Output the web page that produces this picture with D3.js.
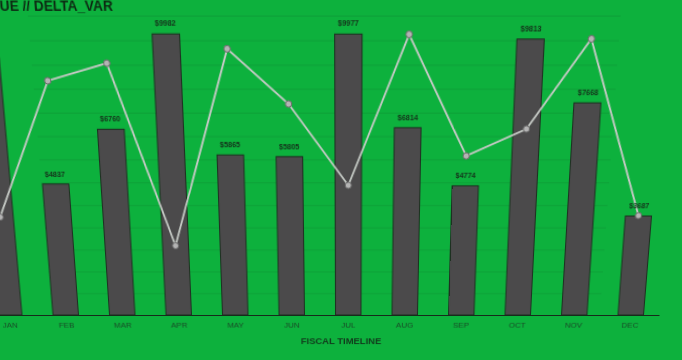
<!DOCTYPE html>
<html><head><meta charset="utf-8">
<script src="https://cdn.jsdelivr.net/npm/d3@7"></script>
<style>
html,body{margin:0;padding:0;background:#0db13d;overflow:hidden;width:682px;height:360px;}
#wrap{position:absolute;left:0;top:0;width:682px;height:360px;overflow:hidden;}
#wrap svg{position:absolute;left:-60px;top:0;transform-origin:407px 315px;transform:perspective(777px) rotateX(-12deg);}
text{font-family:"Liberation Sans",Arial,sans-serif;}
</style></head><body><div id="wrap"></div>
<script>
const months = ["JAN","FEB","MAR","APR","MAY","JUN","JUL","AUG","SEP","OCT","NOV","DEC"];
const revenue = [9200, 4837, 6760, 9982, 5865, 5805, 9977, 6814, 4774, 9813, 7668, 3687];
const deltaVar = [3650, 8420, 9010, 2600, 9490, 7630, 4790, 9970, 5830, 6770, 9820, 3700];
const yMax = 10570;
const gridCount = 13;
const chartTitle = "REVENUE // DELTA_VAR";
const xAxisTitle = "FISCAL TIMELINE";

const off = 60;
const svg = d3.select("#wrap").append("svg").attr("width", 800).attr("height", 400);
const g = svg.append("g").attr("transform", `translate(${off},0)`);

const x = d3.scaleBand().domain(months).range([-19, 659]).paddingInner(0.55).paddingOuter(0.275);
const y = d3.scaleLinear().domain([0, yMax]).range([315, 32.5]);

// gridlines
const gridVals = d3.range(1, gridCount + 1).map(i => yMax * i / gridCount);
g.append("g").selectAll("line").data(gridVals).join("line")
  .attr("x1", 52).attr("x2", 600)
  .attr("y1", d => y(d)).attr("y2", d => y(d))
  .attr("stroke", "#000").attr("stroke-opacity", 0.09).attr("stroke-width", 1);

// title
g.append("text").attr("x", 131).attr("y", 28).attr("text-anchor", "end")
  .attr("font-size", 12.6).attr("font-weight", "bold").attr("fill", "#0c2611").text(chartTitle);

// bars
g.append("g").selectAll("rect").data(months).join("rect")
  .attr("x", d => x(d)).attr("width", x.bandwidth())
  .attr("y", (d, i) => y(revenue[i])).attr("height", (d, i) => y(0) - y(revenue[i]))
  .attr("fill", "#4b4a4b").attr("stroke", "#1c2f20").attr("stroke-width", 1);

// x axis
const xAxis = g.append("g").attr("transform", `translate(0,${y(0)})`)
  .call(d3.axisBottom(x).tickSize(0).tickPadding(7));
xAxis.select(".domain").attr("stroke", "#15281a").attr("stroke-width", 1.2);
xAxis.selectAll("text").attr("font-size", 8).attr("fill", "#184a26")
  .attr("font-family", "'Liberation Sans', Arial, sans-serif");

g.append("text").attr("x", 341).attr("y", 345).attr("text-anchor", "middle")
  .attr("font-size", 9.5).attr("font-weight", "bold").attr("fill", "#103a1b").text(xAxisTitle);

// line
const cx = (d, i) => x(months[i]) + x.bandwidth() / 2;
const line = d3.line().x((d, i) => cx(d, i)).y(d => y(d));
g.append("path").datum(deltaVar).attr("d", line)
  .attr("fill", "none").attr("stroke", "#c4c9c4").attr("stroke-width", 1.8);
g.append("g").selectAll("circle").data(deltaVar).join("circle")
  .attr("cx", (d, i) => cx(d, i)).attr("cy", d => y(d)).attr("r", 3)
  .attr("fill", "#b4b4b4").attr("stroke", "#6a6a6a").attr("stroke-width", 1);

// value labels
g.append("g").selectAll("text").data(revenue).join("text")
  .attr("x", (d, i) => cx(d, i)).attr("y", d => y(d) - 7)
  .attr("text-anchor", "middle").attr("font-size", 7).attr("font-weight", "bold")
  .attr("fill", "#14301a").text(d => "$" + d);
</script></body></html>
